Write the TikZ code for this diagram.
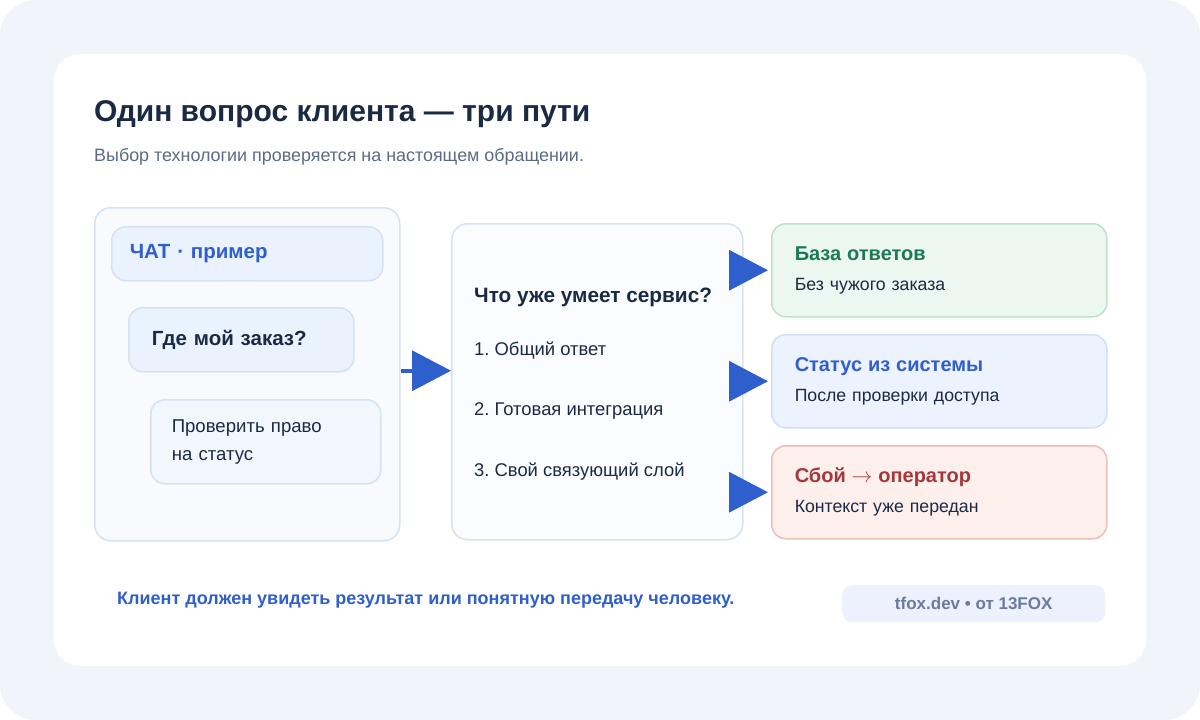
\documentclass[tikz,border=0pt]{standalone}
\usepackage{fontspec}
\setmainfont{Liberation Sans}
\usetikzlibrary{arrows.meta}
\frenchspacing
\definecolor{pagebg}{HTML}{F1F4FB}
\definecolor{panelfill}{HTML}{F8FAFE}
\definecolor{panelline}{HTML}{D6E2F1}
\definecolor{tagfill}{HTML}{EAF2FE}
\definecolor{ink}{HTML}{1B2A44}
\definecolor{muted}{HTML}{5B6B85}
\definecolor{accent}{HTML}{2F5FCC}
\definecolor{okfill}{HTML}{ECF7F1}
\definecolor{okline}{HTML}{BCE1CD}
\definecolor{okink}{HTML}{1B7A55}
\definecolor{infofill}{HTML}{EDF3FE}
\definecolor{infoline}{HTML}{D3E0F4}
\definecolor{failfill}{HTML}{FDEFEC}
\definecolor{failline}{HTML}{ECBFB7}
\definecolor{failink}{HTML}{A3383B}
\definecolor{pillfill}{HTML}{ECF1FD}
\definecolor{pillink}{HTML}{6B7BA0}
\tikzset{
    panel/.style = {draw=panelline, fill=panelfill, line width=1.5pt, rectangle, rounded corners=16pt, anchor=north west},
    bubble/.style = {draw=panelline, fill=tagfill, line width=1.5pt, rectangle, rounded corners=14pt, anchor=north west, align=left, text=ink},
    outcome/.style = {line width=1.5pt, rectangle, rounded corners=14pt, anchor=north west, align=left, text=ink,
        minimum width=335pt, minimum height=93pt, inner xsep=23pt, text width=289pt, font=\fontsize{17.7}{26}\selectfont},
    flow/.style = {draw=accent, line width=3.5pt, -{Triangle[length=39pt,width=40pt]}},
}
\begin{document}
\begin{tikzpicture}[x=1pt, y=-1pt]
% page and card
\fill[white] (0,0) rectangle (1200,720);
\fill[pagebg, rounded corners=36pt] (0,0) rectangle (1200,720);
\fill[white, rounded corners=26pt] (54,54) rectangle (1146,666);

\node[anchor=base west, inner sep=0, text=ink, font=\fontsize{30}{34}\selectfont\bfseries] (title) at (94,121) {Один вопрос клиента — три пути};
\node[anchor=base west, inner sep=0, text=muted, font=\fontsize{17.9}{20}\selectfont] (subtitle) at (94,161) {Выбор технологии проверяется на настоящем обращении.};

% left: the chat
\node[panel, minimum width=305pt, minimum height=333pt] (chat) at (94,207) {};
\node[bubble, minimum width=271pt, minimum height=54pt, inner xsep=18pt, text width=235pt, text=accent,
    font=\fontsize{20.5}{24}\selectfont\bfseries] (tag) at (111,226) {ЧАТ · пример};
\node[bubble, minimum width=225pt, minimum height=64pt, inner xsep=23pt, text width=179pt,
    font=\fontsize{20.5}{24}\selectfont\bfseries] (ask) at (128,307) {Где мой заказ?};
\node[bubble, fill=panelfill!60!tagfill, minimum width=230pt, minimum height=84pt, inner xsep=21pt, text width=188pt,
    font=\fontsize{18.6}{28}\selectfont] (check) at (150,399) {Проверить право\\на статус};

% middle: what the service can do
\node[panel, fill=panelfill!50!white, minimum width=291pt, minimum height=316pt] (svc) at (451,223) {};
\node[anchor=west, inner sep=0, text=ink, font=\fontsize{20.8}{24}\selectfont\bfseries] (svc-q) at (474,297) {Что уже умеет сервис?};
\node[anchor=west, inner sep=0, text=ink, font=\fontsize{18.4}{22}\selectfont] (opt1) at (474,351) {1. Общий ответ};
\node[anchor=west, inner sep=0, text=ink, font=\fontsize{18.4}{22}\selectfont] (opt2) at (474,411) {2. Готовая интеграция};
\node[anchor=west, inner sep=0, text=ink, font=\fontsize{18.4}{22}\selectfont] (opt3) at (474,472) {3. Свой связующий слой};

% right: three outcomes
\node[outcome, draw=okline, fill=okfill] (faq) at (771,223)
    {{\fontsize{20}{24}\selectfont\bfseries\color{okink}База ответов}\\[4pt]Без чужого заказа};
\node[outcome, draw=infoline, fill=infofill] (status) at (771,334)
    {{\fontsize{20}{24}\selectfont\bfseries\color{accent}Статус из системы}\\[4pt]После проверки доступа};
\node[outcome, draw=failline, fill=failfill] (handoff) at (771,445)
    {{\fontsize{20}{24}\selectfont\bfseries\color{failink}Сбой $\rightarrow$ оператор}\\[4pt]Контекст уже передан};

% connectors
\draw[flow] ([yshift=3.5pt]chat.east) -- ([yshift=3.5pt]chat.east -| svc.west);
\foreach \dest in {faq, status, handoff}
    \draw[flow, shorten >=3pt] (svc.east |- \dest.west) -- (\dest.west);

% footer
\node[anchor=west, inner sep=0, text=accent, font=\fontsize{18}{20}\selectfont\bfseries] (moral) at (117,600)
    {Клиент должен увидеть результат или понятную передачу человеку.};
\node[fill=pillfill, rounded corners=10pt, anchor=north west, minimum width=263pt, minimum height=37pt,
    text=pillink, font=\fontsize{17}{19}\selectfont\bfseries] (credit) at (842,585) {tfox.dev • от 13FOX};
\end{tikzpicture}
\end{document}
